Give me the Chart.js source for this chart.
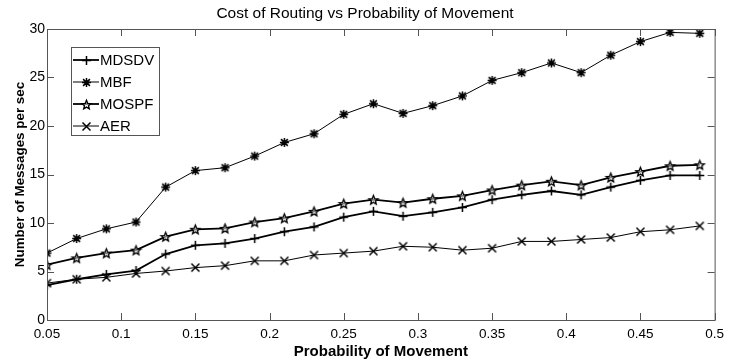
<!DOCTYPE html>
<html lang="en">
  <head>
    <meta charset="utf-8" />
    <title>Cost of Routing vs Probability of Movement</title>
    <script src="https://cdn.jsdelivr.net/npm/chart.js/dist/chart.umd.min.js"></script>
    <style>
      * {
        margin: 0;
        padding: 0;
      }
      body {
        background: #fff;
      }
    </style>
  </head>
  <body>
    <canvas id="myChart" width="730" height="362"></canvas>

    <script>
      // data
      const probability = [0.05, 0.07, 0.09, 0.11, 0.13, 0.15, 0.17, 0.19, 0.21, 0.23, 0.25, 0.27,
        0.29, 0.31, 0.33, 0.35, 0.37, 0.39, 0.41, 0.43, 0.45, 0.47, 0.49];
      const mdsdv = [3.6, 4.2, 4.7, 5.1, 6.8, 7.7, 7.9, 8.4, 9.1, 9.6, 10.6, 11.2,
        10.7, 11.1, 11.6, 12.4, 12.9, 13.3, 12.9, 13.7, 14.4, 14.9, 14.9];
      const mbf = [6.9, 8.4, 9.4, 10.1, 13.7, 15.4, 15.7, 16.9, 18.3, 19.2, 21.2, 22.3,
        21.3, 22.1, 23.1, 24.7, 25.5, 26.5, 25.5, 27.3, 28.7, 29.65, 29.55];
      const mospf = [5.7, 6.4, 6.9, 7.2, 8.6, 9.35, 9.45, 10.1, 10.5, 11.2, 12.0, 12.4,
        12.1, 12.5, 12.8, 13.4, 13.9, 14.3, 13.9, 14.7, 15.3, 15.9, 16.0];
      const aer = [3.8, 4.2, 4.4, 4.8, 5.05, 5.4, 5.6, 6.1, 6.1, 6.7, 6.9, 7.1,
        7.6, 7.5, 7.2, 7.4, 8.1, 8.1, 8.3, 8.5, 9.1, 9.3, 9.7];
      const xTicks = [0.05, 0.1, 0.15, 0.2, 0.25, 0.3, 0.35, 0.4, 0.45, 0.5];
      const yTicks = [0, 5, 10, 15, 20, 25, 30];

      const FONT = "'Liberation Sans', Arial, sans-serif";

      // marker images, matlab style
      function makeMarker(kind) {
        const c = document.createElement("canvas");
        c.width = 13;
        c.height = 13;
        const g = c.getContext("2d");
        const m = 6.5;
        g.strokeStyle = "#000";
        g.lineWidth = 1.5;
        g.beginPath();
        if (kind === "plus" || kind === "star") {
          g.moveTo(m, m - 4.5); g.lineTo(m, m + 4.5);
          g.moveTo(m - 4.5, m); g.lineTo(m + 4.5, m);
        }
        if (kind === "x" || kind === "star") {
          const d = kind === "x" ? 4 : 3.4;
          g.moveTo(m - d, m - d); g.lineTo(m + d, m + d);
          g.moveTo(m - d, m + d); g.lineTo(m + d, m - d);
        }
        if (kind === "pentagram") {
          g.lineWidth = 1.3;
          for (let i = 0; i < 10; i++) {
            const r = i % 2 === 0 ? 4.8 : 2.1;
            const a = -Math.PI / 2 + (i * Math.PI) / 5;
            const px = m + r * Math.cos(a);
            const py = m + 0.5 + r * Math.sin(a);
            if (i === 0) g.moveTo(px, py);
            else g.lineTo(px, py);
          }
          g.closePath();
          g.fillStyle = "rgba(255,255,255,0.5)";
          g.fill();
        }
        g.stroke();
        return c;
      }

      const toPoints = (arr) => arr.map((v, i) => ({ x: probability[i], y: v }));

      const data = {
        datasets: [
          { label: "MDSDV", data: toPoints(mdsdv), borderWidth: 1.8, pointStyle: makeMarker("plus") },
          { label: "MBF", data: toPoints(mbf), borderWidth: 1, pointStyle: makeMarker("star") },
          { label: "MOSPF", data: toPoints(mospf), borderWidth: 1.8, pointStyle: makeMarker("pentagram") },
          { label: "AER", data: toPoints(aer), borderWidth: 1, pointStyle: makeMarker("x") },
        ],
      };

      // box with inward ticks + legend inside the plot
      const matlabAxes = {
        id: "matlabAxes",
        afterDraw(chart) {
          const { ctx, chartArea: a, scales } = chart;
          ctx.save();
          ctx.strokeStyle = "#555";
          ctx.lineWidth = 1;
          ctx.strokeRect(a.left + 0.5, a.top + 0.5, a.right - a.left, a.bottom - a.top);
          ctx.beginPath();
          const tl = 7;
          xTicks.forEach((v) => {
            const x = Math.round(scales.x.getPixelForValue(v)) + 0.5;
            ctx.moveTo(x, a.bottom); ctx.lineTo(x, a.bottom - tl);
            ctx.moveTo(x, a.top); ctx.lineTo(x, a.top + tl);
          });
          yTicks.forEach((v) => {
            const y = Math.round(scales.y.getPixelForValue(v)) + 0.5;
            ctx.moveTo(a.left, y); ctx.lineTo(a.left + tl, y);
            ctx.moveTo(a.right, y); ctx.lineTo(a.right - tl, y);
          });
          ctx.stroke();

          // legend
          const lx = a.left + 24, ly = 47, lw = 88, lh = 88;
          ctx.fillStyle = "#fff";
          ctx.fillRect(lx, ly, lw, lh);
          ctx.strokeStyle = "#555";
          ctx.strokeRect(lx + 0.5, ly + 0.5, lw, lh);
          ctx.font = `15px ${FONT}`;
          ctx.textBaseline = "middle";
          ctx.textAlign = "left";
          chart.data.datasets.forEach((ds, i) => {
            const y = ly + 13 + i * 22;
            ctx.strokeStyle = "#000";
            ctx.lineWidth = ds.borderWidth;
            ctx.beginPath();
            ctx.moveTo(lx + 2, y);
            ctx.lineTo(lx + 28, y);
            ctx.stroke();
            const img = ds.pointStyle;
            ctx.drawImage(img, Math.round(lx + 15 - img.width / 2), Math.round(y - img.height / 2));
            ctx.fillStyle = "#000";
            ctx.fillText(ds.label, lx + 29, y + 1);
          });
          ctx.restore();
        },
      };

      const config = {
        type: "line",
        data,
        options: {
          responsive: false,
          animation: false,
          layout: { padding: { left: 10, right: 10, top: 0, bottom: 0 } },
          elements: {
            line: { borderColor: "#000", tension: 0, fill: false },
            point: { radius: 5, borderColor: "#000", backgroundColor: "#000" },
          },
          scales: {
            x: {
              type: "linear",
              min: 0.05,
              max: 0.5,
              afterBuildTicks: (s) => { s.ticks = xTicks.map((v) => ({ value: v })); },
              afterFit: (s) => { s.height = 42; },
              grid: { display: false, drawTicks: false },
              border: { display: false },
              ticks: {
                color: "#000",
                font: { family: FONT, size: 13.5 },
                padding: 6,
                maxRotation: 0,
                callback: (v) => String(+v.toFixed(2)),
              },
              title: {
                display: true,
                text: "Probability of Movement",
                color: "#000",
                font: { family: FONT, size: 15, weight: "bold" },
                padding: { top: 1, bottom: 1 },
              },
            },
            y: {
              min: 0,
              max: 30,
              afterBuildTicks: (s) => { s.ticks = yTicks.map((v) => ({ value: v })); },
              afterFit: (s) => { s.width = 37; },
              grid: { display: false, drawTicks: false },
              border: { display: false },
              ticks: {
                color: "#000",
                font: { family: FONT, size: 14 },
                padding: 2,
              },
              title: {
                display: true,
                text: "Number of Messages per sec",
                color: "#000",
                font: { family: FONT, size: 13.4, weight: "bold" },
                padding: { top: 2, bottom: 2 },
              },
            },
          },
          plugins: {
            legend: { display: false },
            tooltip: { enabled: false },
            title: {
              display: true,
              text: "Cost of Routing vs Probability of Movement",
              color: "#000",
              font: { family: FONT, size: 15.5, weight: "normal" },
              padding: { top: 4, bottom: 6.4 },
            },
          },
        },
        plugins: [matlabAxes],
      };

      const myChart = new Chart(document.getElementById("myChart"), config);
    </script>
  </body>
</html>
